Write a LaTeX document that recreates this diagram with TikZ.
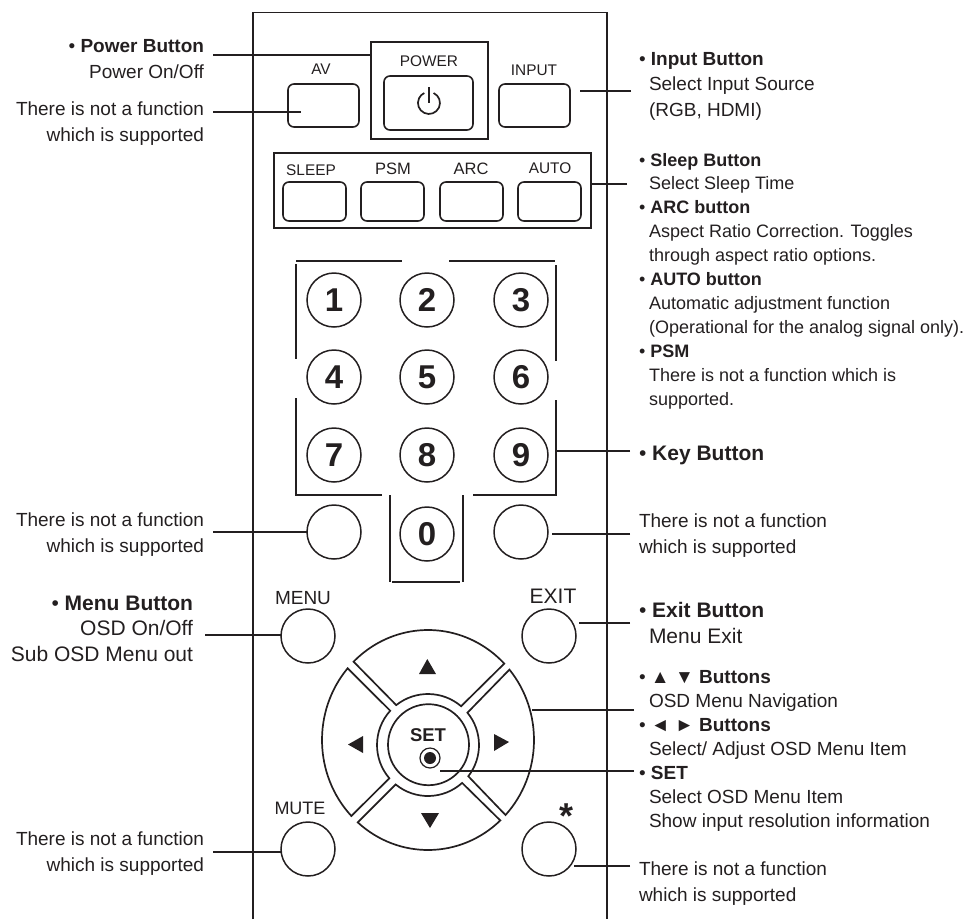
\documentclass[tikz,border=0pt]{standalone}
\usepackage{fontspec}
\setmainfont{Liberation Sans}
\definecolor{ink}{HTML}{231F20}
\newcommand{\fs}[2]{\fontsize{#1}{#2}\selectfont}
\newcommand{\ind}{\hspace*{10pt}}
\begin{document}
\begin{tikzpicture}[x=1pt,y=-1pt,
  every node/.style={text=ink,inner sep=0pt,outer sep=0pt},
  frameline/.style={draw=ink,line width=1.9pt},
  leader/.style={draw=ink,line width=1.8pt},
  keyline/.style={draw=ink,line width=1.7pt},
  panelbox/.style={draw=ink,line width=1.5pt,rectangle},
  btn/.style={draw=ink,line width=1.6pt,rectangle,rounded corners=6pt},
  roundbtn/.style={draw=ink,line width=1.5pt,circle,minimum size=54pt},
  btncap/.style={font=\fs{15.4}{18}},
  btncapbig/.style={font=\fs{16.5}{18}},
  digit/.style={roundbtn,font=\fs{33}{36}\bfseries},
  lbl/.style={anchor=base west,align=left,font=\fs{19}{24}},
  lblsmall/.style={anchor=base west,align=left,font=\fs{18}{23.9}},
  lblwide/.style={anchor=base west,align=left,font=\fs{19}{25.5}},
  lblbig/.style={anchor=base west,align=left,font=\fs{21}{26}},
  lblr/.style={anchor=base east,align=right,font=\fs{19}{25.5}},
  lblrbig/.style={anchor=base east,align=right,font=\fs{21}{25.5}},
  arrowmark/.style={fill=ink}]
\useasboundingbox (0,0) rectangle (967,919);
\draw[frameline] (252.7,919) -- (252.7,12.5) -- (607.3,12.5) -- (607.3,919);

\node[panelbox,minimum width=117pt,minimum height=97pt] (pwrbox) at (429.5,90.5) {};
\node[btn,minimum width=89pt,minimum height=54pt] (pwrbtn) at (428.5,103) {};
\node[btn,minimum width=71pt,minimum height=43pt] (avbtn) at (323.5,105.5) {};
\node[btn,minimum width=71pt,minimum height=43pt] (inputbtn) at (534.5,105.5) {};
\node[panelbox,minimum width=317pt,minimum height=75pt] (panel) at (432.5,190.5) {};
\foreach \nm/\cx in {sleep/314.5,psm/392.5,arc/471.5,auto/549.5}
  \node[btn,minimum width=63pt,minimum height=39pt] (\nm btn) at (\cx,201.5) {};
\node[btncap] (avcap) at (321,69) {AV};
\node[btncap] (pwrcap) at (429,61) {POWER};
\node[btncap] (inputcap) at (534,70) {INPUT};
\node[btncap] (sleepcap) at (311,170) {SLEEP};
\node[btncapbig] (psmcap) at (393,169) {PSM};
\node[btncapbig] (arccap) at (471,169) {ARC};
\node[btncap] (autocap) at (550,168) {AUTO};
\draw[keyline] (433.6,93) arc[start angle=65,end angle=-245,radius=11pt];
\draw[keyline] (429,87) -- (429,103);

\foreach \d/\cx/\cy in {1/334/300,2/427/300,3/521/300,4/334/377,5/427/377,6/521/377,7/334/455,8/427/455,9/521/455,0/427/534}
  \node[digit] (key\d) at (\cx,\cy) {\raisebox{-2pt}{\d}};
\node[roundbtn] (sidel) at (334,532) {};
\node[roundbtn] (sider) at (521,532) {};
\draw[keyline] (296,261) -- (402,261);
\draw[keyline] (449,261) -- (555,261);
\draw[keyline] (296,264) -- (296,359);
\draw[keyline] (556,265) -- (556,361);
\draw[keyline] (296,398) -- (296,495) -- (382,495);
\draw[keyline] (556,400) -- (556,495) -- (473,495);
\draw[keyline] (390,495) -- (390,582);
\draw[keyline] (392,582) -- (460,582);
\draw[keyline] (463,495) -- (463,582);

\node[roundbtn] (menubtn) at (308,636) {};
\node[roundbtn] (exitbtn) at (549,636) {};
\node[roundbtn] (mutebtn) at (308,849) {};
\node[roundbtn] (starbtn) at (549,849) {};
\node[font=\fs{19}{22}] (menucap) at (303,598) {MENU};
\node[font=\fs{21}{24}] (exitcap) at (553,596) {EXIT};
\node[font=\fs{18}{22}] (mutecap) at (300,808) {MUTE};
\node[anchor=base,font=\fs{36}{40}\bfseries] (starcap) at (566,828) {*};

\foreach \oa/\ob/\ia/\ib in {134.6/44/128.5/49.5,39.8/-43/39.3/-37.8,-47/-131.5/-48/-129.4,223.7/139.3/220.7/137.8}
  \draw[keyline] ([shift={(428,740)}]\oa:106pt and 110pt)
    arc[start angle=\oa,end angle=\ob,x radius=106pt,y radius=110pt]
    -- ([shift={(428,745)}]\ib:51pt) arc[start angle=\ib,end angle=\ia,radius=51pt] -- cycle;
\node[draw=ink,line width=1.7pt,circle,minimum size=81pt] (setbtn) at (428.5,744.7) {};
\node[font=\fs{18.5}{20}\bfseries] (setcap) at (428,735) {SET};
\node[draw=ink,line width=1.2pt,circle,minimum size=20pt] (setring) at (430,758) {};
\node[fill=ink,circle,minimum size=12pt] (setdot) at (setring) {};
\fill[arrowmark] (427.3,659) -- (436,674) -- (419,674) -- cycle;
\fill[arrowmark] (430,828) -- (421,813) -- (439,813) -- cycle;
\fill[arrowmark] (348,744.5) -- (363,736) -- (363,753) -- cycle;
\fill[arrowmark] (509,742) -- (494,734) -- (494,751) -- cycle;

\coordinate (pwrtip) at (213,55);
\coordinate (avtip) at (213,112);
\coordinate (avend) at (301,112);
\coordinate (inputtip) at (631,91);
\coordinate (inputend) at (580,91);
\coordinate (paneltip) at (627,184);
\coordinate (keytip) at (630,451);
\coordinate (keyend) at (556,451);
\coordinate (sideltip) at (213,532);
\coordinate (sidertip) at (630,534);
\coordinate (siderend) at (552,534);
\coordinate (menutip) at (205,635);
\coordinate (exittip) at (630,623);
\coordinate (exitend) at (579,623);
\coordinate (padtip) at (634,710);
\coordinate (padend) at (532,710);
\coordinate (settip) at (634,771);
\coordinate (setend) at (440,771);
\coordinate (mutetip) at (213,852);
\coordinate (startip) at (630,866);
\coordinate (starend) at (574,866);
\draw[leader] (pwrtip) -- (pwrtip -| pwrbox.west);
\draw[leader] (avtip) -- (avend);
\draw[leader] (inputtip) -- (inputend);
\draw[leader] (paneltip) -- (paneltip -| panel.east);
\draw[leader] (keytip) -- (keyend);
\draw[leader] (sideltip) -- (sidel.west);
\draw[leader] (sidertip) -- (siderend);
\draw[leader] (menutip) -- (menutip -| menubtn.west);
\draw[leader] (exittip) -- (exitend);
\draw[leader] (padtip) -- (padend);
\draw[leader] (settip) -- (setend);
\draw[leader] (mutetip) -- (mutetip -| mutebtn.west);
\draw[leader] (startip) -- (starend);

\node[lblr] (pwrlbl) at (204,78) {• \textbf{Power Button}\\Power On/Off};
\node[lblr] (avlbl) at (204,141) {There is not a function\\which is supported};
\node[lblr] (sidellbl) at (204,552) {There is not a function\\which is supported};
\node[lblrbig] (menulbl) at (193,661) {• \textbf{Menu Button}\\OSD On/Off\\Sub OSD Menu out};
\node[lblr] (mutelbl) at (204,871) {There is not a function\\which is supported};
\node[lblwide] (inputlbl) at (639,116) {• \textbf{Input Button}\\\ind Select Input Source\\\ind (RGB, HDMI)};
\node[lblsmall] (panellbl) at (639,405) {• \textbf{Sleep Button}\\\ind Select Sleep Time\\• \textbf{ARC button}\\\ind Aspect Ratio Correction. Toggles\\\ind through aspect ratio options.\\• \textbf{AUTO button}\\\ind Automatic adjustment function\\\ind (Operational for the analog signal only).\\• \textbf{PSM}\\\ind There is not a function which is\\\ind supported.};
\node[lblbig] (keylbl) at (639,460) {• \textbf{Key Button}};
\node[lblwide] (siderlbl) at (639,553) {There is not a function\\which is supported};
\node[lblbig] (exitlbl) at (639,643) {• \textbf{Exit Button}\\\ind Menu Exit};
\node[lbl] (padlbl) at (639,827) {• \textbf{▲ ▼ Buttons}\\\ind OSD Menu Navigation\\• \textbf{◄ ► Buttons}\\\ind Select/ Adjust OSD Menu Item\\• \textbf{SET}\\\ind Select OSD Menu Item\\\ind Show input resolution information};
\node[lblwide] (starlbl) at (639,901) {There is not a function\\which is supported};
\end{tikzpicture}
\end{document}
